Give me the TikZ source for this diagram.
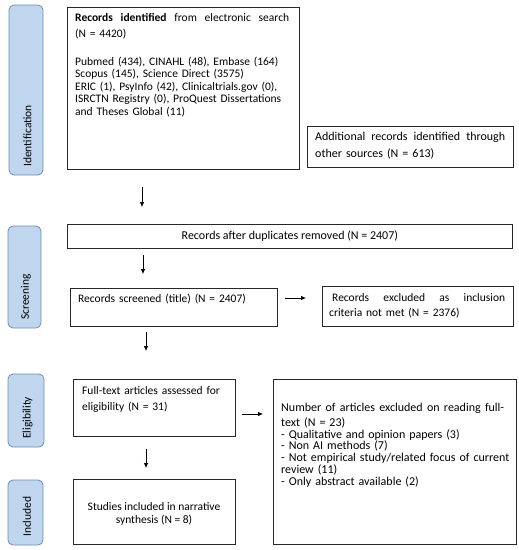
\documentclass[tikz,border=0pt]{standalone}
\usepackage{fontspec}
\setmainfont{Carlito}
\usetikzlibrary{arrows.meta}
\definecolor{labfill}{HTML}{C0D5EE}
\definecolor{labdraw}{HTML}{6E8DB3}
\begin{document}
\begin{tikzpicture}[x=1pt,y=-1pt,
  box/.style={draw=black!85, line width=0.7pt, anchor=north west, inner sep=0pt},
  txt/.style={anchor=north west, inner sep=0pt, align=left, text width=250pt, font=\fontsize{11.5}{12.5}\selectfont},
  lab/.style={draw=labdraw, fill=labfill, rounded corners=5pt, line width=0.8pt},
  labtxt/.style={rotate=90, anchor=west, inner sep=0pt, font=\fontsize{11.5}{12}\selectfont},
  arr/.style={-{Latex[length=5pt,width=4.5pt]}, line width=0.7pt}]
\useasboundingbox (0,0) rectangle (519,550);

% stage labels
\node[lab, minimum width=34, minimum height=170] (lid) at (26,90) {};
\node[labtxt] (tid) at (27.5,167) {Identification};
\node[lab, minimum width=33, minimum height=102] (lsc) at (24.5,277) {};
\node[labtxt] (tsc) at (26,320) {Screening};
\node[lab, minimum width=36, minimum height=73] (lel) at (26,410.5) {};
\node[labtxt] (tel) at (27.5,439) {Eligibility};
\node[lab, minimum width=35, minimum height=65] (lin) at (25.5,512.5) {};
\node[labtxt] (tin) at (27,537) {Included};

% boxes
\node[box, minimum width=232, minimum height=162] (b1) at (67,7) {};
\node[txt] (t1) at (75,13.2) {%
\hbox to 214pt{\bfseries Records\hfill identified\mdseries\hfill from\hfill electronic\hfill search}\\[3.5pt]
(N = 4420)\\[15.5pt]
Pubmed (434), CINAHL (48), Embase (164)\\
Scopus (145), Science Direct (3575)\\
ERIC (1), PsyInfo (42), Clinicaltrials.gov (0),\\
ISRCTN Registry (0), ProQuest Dissertations\\
and Theses Global (11)};

\node[box, minimum width=206, minimum height=41] (b2) at (307,126) {};
\node[txt, font=\fontsize{12}{12.5}\selectfont] (t2) at (315,132) {%
\hbox to 190pt{Additional\hfill records\hfill identified\hfill through}\\[4.5pt]
other sources (N = 613)};

\node[box, minimum width=445, minimum height=24, font=\fontsize{12}{12}\selectfont] (b3) at (67,224) {Records after duplicates removed (N = 2407)};

\node[box, minimum width=207, minimum height=38] (b4) at (70,288) {};
\node[txt] (t4) at (78,294.2) {Records screened (title) (N = 2407)};

\node[box, minimum width=191, minimum height=40] (b5) at (322,286) {};
\node[txt] (t5) at (329,293.2) {%
\hbox to 176pt{\hspace{3pt}Records\hfill excluded\hfill as\hfill inclusion}\\[2.5pt]
criteria not met (N = 2376)};

\node[box, minimum width=162, minimum height=57] (b6) at (73,379) {};
\node[txt] (t6) at (82,386.2) {Full-text articles assessed for\\[3.5pt]
eligibility (N = 31)};

\node[box, minimum width=243, minimum height=165] (b7) at (273,379) {};
\node[txt, font=\fontsize{12}{11.7}\selectfont] (t7) at (281,403) {%
\hbox to 223pt{Number\hfill of\hfill articles\hfill excluded\hfill on\hfill reading\hfill full-}\\[3.3pt]
text (N = 23)\\
- Qualitative and opinion papers (3)\\
- Non AI methods (7)\\
- Not empirical study/related focus of current\\
review (11)\\
- Only abstract available (2)};

\node[box, minimum width=162, minimum height=65] (b8) at (73,479) {};
\node[align=center, inner sep=0pt, font=\fontsize{11.5}{13}\selectfont] (t8) at (154,513.5) {Studies included in narrative\\synthesis (N = 8)};

% arrow end points
\coordinate (a1s) at (142,187);
\coordinate (a1e) at (142,207);
\coordinate (a2s) at (143,255);
\coordinate (a2e) at (143,274);
\coordinate (a3s) at (146,332);
\coordinate (a3e) at (146,351);
\coordinate (a4s) at (146,449);
\coordinate (a4e) at (146,468);
\coordinate (r1s) at (285,298);
\coordinate (r1e) at (306,298);
\coordinate (r2s) at (242,414);
\coordinate (r2e) at (263,414);

\draw[arr] (a1s) -- (a1e);
\draw[arr] (a2s) -- (a2e);
\draw[arr] (a3s) -- (a3e);
\draw[arr] (a4s) -- (a4e);
\draw[arr] (r1s) -- (r1e);
\draw[arr] (r2s) -- (r2e);
\end{tikzpicture}
\end{document}
